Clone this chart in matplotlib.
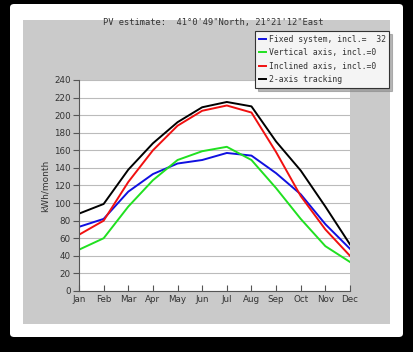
import matplotlib
matplotlib.use("Agg")
import matplotlib.pyplot as plt
from matplotlib.patches import FancyBboxPatch, Rectangle

months = ["Jan", "Feb", "Mar", "Apr", "May", "Jun", "Jul", "Aug", "Sep", "Oct", "Nov", "Dec"]
fixed = [73, 82, 113, 133, 145, 149, 157, 154, 134, 110, 76, 48]
vertical = [47, 60, 96, 126, 149, 159, 164, 149, 117, 82, 51, 33]
inclined = [64, 80, 124, 160, 188, 205, 211, 203, 158, 108, 70, 40]
two_axis = [88, 99, 138, 168, 192, 209, 215, 210, 170, 137, 96, 53]
labels = ["Fixed system, incl.=  32", "Vertical axis, incl.=0",
          "Inclined axis, incl.=0", "2-axis tracking"]
colors = ["#1010e0", "#20e020", "#f01010", "#000000"]
title = "PV estimate:  41°0'49\"North, 21°21'12\"East"
yticks = list(range(0, 241, 20))

W, H = 413, 352
fig = plt.figure(figsize=(W / 100, H / 100), dpi=100)
fig.patch.set_facecolor("black")

def px(x0, y0, x1, y1):
    return (x0 / W, 1 - y1 / H, (x1 - x0) / W, (y1 - y0) / H)

x, y, w, h = px(10, 4, 403, 337)
fig.patches.append(FancyBboxPatch((x, y), w, h, boxstyle="round,pad=0,rounding_size=0.01",
                                  transform=fig.transFigure, facecolor="white", edgecolor="none",
                                  zorder=-2))
x, y, w, h = px(23, 20, 390, 324)
fig.patches.append(Rectangle((x, y), w, h, transform=fig.transFigure,
                             facecolor="#cacaca", edgecolor="none", zorder=-1))

ax = fig.add_axes(px(79, 80, 350, 291))
ax.set_facecolor("white")
xs = list(range(len(months)))
series = [fixed, vertical, inclined, two_axis]
handles = []
for s, c, l in zip(series, colors, labels):
    ln, = ax.plot(xs, s, color=c, lw=1.4, label=l)
    handles.append(ln)

ax.set_xlim(0, 11)
ax.set_ylim(0, 240)
ax.set_yticks(yticks)
ax.set_xticks(xs)
ax.set_xticklabels(months)
ax.yaxis.grid(True, color="#bbbbbb", lw=0.8)
ax.set_axisbelow(True)
for sp in ["top", "right"]:
    ax.spines[sp].set_visible(False)
for sp in ["left", "bottom"]:
    ax.spines[sp].set_color("#555555")
    ax.spines[sp].set_linewidth(0.8)
ax.tick_params(axis="y", direction="out", length=4, color="#555555", labelsize=6.3,
               labelcolor="#333333", pad=2)
ax.tick_params(axis="x", direction="in", length=4, color="#555555", labelsize=6.3,
               labelcolor="#333333", pad=3)
ax.set_ylabel("kWh/month", fontsize=6.5, color="#333333", labelpad=3)

fig.text(213 / W, 1 - 23 / H, title, ha="center", va="center",
         fontsize=6.3, family="DejaVu Sans Mono", color="#333333")

leg = fig.legend(handles=handles, loc="upper left", bbox_to_anchor=(255 / W, 1 - 31 / H),
                 bbox_transform=fig.transFigure, prop={"family": "DejaVu Sans Mono", "size": 5.9},
                 frameon=True, fancybox=False,
                 shadow={"color": "#888888", "alpha": 0.6, "ox": 2, "oy": -2},
                 handlelength=0.9, handletextpad=0.3, borderpad=0.45, labelspacing=0.55,
                 borderaxespad=0)
leg.get_frame().set_facecolor("#f4f4f4")
leg.get_frame().set_edgecolor("#333333")
leg.get_frame().set_linewidth(0.8)
for t in leg.get_texts():
    t.set_color("#333333")

fig.savefig("out.png", dpi=100, facecolor=fig.get_facecolor())
